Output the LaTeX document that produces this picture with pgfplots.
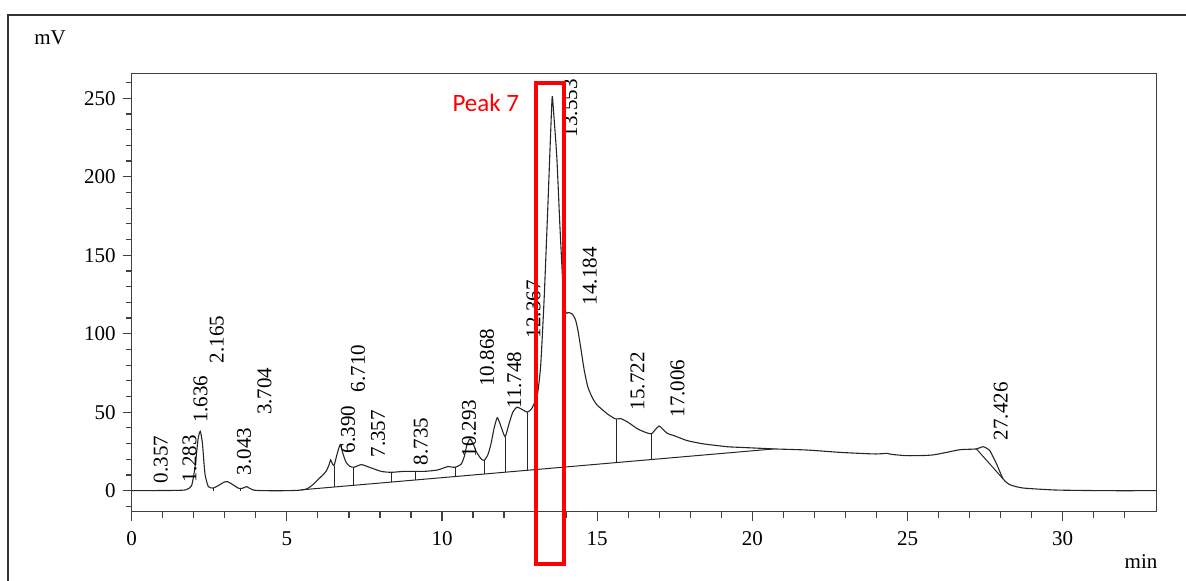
\documentclass[border=0pt]{standalone}
\usepackage{fontspec}
\setmainfont{Liberation Serif}
\newfontfamily\calfont{Carlito}
\usepackage{pgfplots}
\pgfplotsset{compat=1.18}
\definecolor{axgray}{HTML}{404040}
\begin{document}
\begin{tikzpicture}
\path[use as bounding box] (0,0) rectangle (593pt,290pt);
\draw[line width=1pt, color=black!80] (4.15pt,-1pt) -- (4.15pt,282.5pt) -- (594pt,282.5pt);
\node[font=\fontsize{10.5}{12}\selectfont] at (25pt,271pt) {mV};
\node[font=\fontsize{10.5}{12}\selectfont] at (570.5pt,9pt) {min};
\begin{axis}[
  at={(65.85pt,34.15pt)}, anchor=south west,
  scale only axis, width=512.5pt, height=219.2pt,
  xmin=0, xmax=33.03, ymin=-13.4, ymax=265.9,
  axis line style={color=axgray, line width=0.6pt},
  tick style={color=axgray, line width=0.6pt},
  tick align=outside,
  major tick length=4.5pt, minor tick length=3pt,
  xtick={0,5,...,30}, ytick={0,50,...,250},
  minor xtick={1,2,3,4,6,7,8,9,11,12,13,14,16,17,18,19,21,22,23,24,26,27,28,29,31,32},
  minor ytick={-10,10,20,30,40,60,70,80,90,110,120,130,140,160,170,180,190,210,220,230,240,260},
  xtick pos=bottom, ytick pos=left,
  ticklabel style={font=\fontsize{10.5}{12}\selectfont, text=black},
  /pgf/number format/assume math mode=true,
  xticklabel style={yshift=-2pt},
  clip=false,
]
% chromatogram trace
\addplot[black!85, line width=0.55pt, smooth, tension=0.35] coordinates {
(0,0) (1.0,0.1) (1.5,0.2) (1.75,0.6) (1.93,3.2) (2.04,15) (2.14,33) (2.21,37.8) (2.28,30) (2.36,10.8) (2.47,2.6) (2.63,1.7) (2.84,3.8) (2.98,5.5) (3.08,5.8) (3.22,4.3) (3.45,1.5) (3.58,1.6) (3.70,2.6) (3.80,1.5) (3.95,0.3) (4.3,0) (5.0,0) (5.4,0.3) (5.65,1.2) (5.85,4) (6.0,7) (6.15,9.8) (6.27,12.5) (6.35,16) (6.41,19.6) (6.46,17.5) (6.52,16) (6.62,23.4) (6.72,29.3) (6.81,23.4) (6.91,18) (7.03,15.5) (7.16,14.9) (7.40,16.6) (7.66,14.9) (8.04,12.3) (8.36,11.7) (8.79,12.3) (9.43,12.3) (9.86,13.2) (10.18,15.3) (10.42,14.9) (10.62,17) (10.72,22) (10.80,29) (10.90,33) (11.0,30) (11.1,25) (11.25,20.5) (11.36,19.3) (11.48,23) (11.58,30) (11.68,40) (11.78,46.5) (11.88,42) (12.03,34.4) (12.15,42) (12.28,50) (12.42,53.2) (12.6,51.5) (12.75,50) (12.88,52) (12.97,55.5) (13.08,62) (13.18,80) (13.29,122) (13.40,176) (13.50,228) (13.55,251) (13.60,240) (13.70,212) (13.80,168) (13.91,126) (13.99,113.5) (14.08,113.5) (14.2,112.5) (14.3,109) (14.38,102) (14.47,91) (14.58,77) (14.70,66) (14.85,59) (15.0,54.5) (15.33,48.9) (15.59,45.7) (15.76,45.9) (16.0,43.5) (16.29,39.5) (16.55,37.2) (16.74,36.2) (16.88,39) (16.99,41.2) (17.1,39.5) (17.26,36.5) (17.47,35.1) (17.9,31.9) (18.43,29.8) (19.19,28) (19.6,27.6) (20.26,27) (20.69,26.6) (21.76,25.9) (22.83,24.4) (23.9,23.4) (24.2,23.6) (24.33,23.8) (24.5,23.1) (24.97,22.3) (25.5,22.4) (25.83,22.8) (26.26,24.4) (26.69,26.1) (27.22,26.6) (27.44,28) (27.65,25.5) (27.87,17) (28.08,7.5) (28.3,3.8) (28.72,1.7) (29.8,0.4) (31.4,0) (33.03,0)
};
% integration baselines
\addplot[black!85, line width=0.5pt] coordinates {(5.45,0.5) (20.7,26.6)};
\addplot[black!85, line width=0.5pt] coordinates {(27.22,26.6) (28.08,7.5)};
% drop lines
\addplot[black!85, line width=0.5pt, unbounded coords=jump] coordinates {
(2.63,0) (2.63,1.7) (2.63,nan)
(3.52,0) (3.52,1.5) (3.52,nan)
(6.52,2.33) (6.52,16) (6.52,nan)
(7.16,3.43) (7.16,14.9) (7.16,nan)
(8.36,5.48) (8.36,11.7) (8.36,nan)
(9.13,6.80) (9.13,12.3) (9.13,nan)
(10.42,9.01) (10.42,14.9) (10.42,nan)
(11.36,10.62) (11.36,19.3) (11.36,nan)
(12.03,11.76) (12.03,34.4) (12.03,nan)
(12.75,12.99) (12.75,50) (12.75,nan)
(15.62,17.91) (15.62,45.8) (15.62,nan)
(16.74,19.82) (16.74,36.2)
};
% retention time labels
\begin{scope}[every node/.style={rotate=90, anchor=west, inner sep=0pt, font=\fontsize{10.5}{12}\selectfont}]
\node at (axis cs:0.937,4.5) {0.357};
\node at (axis cs:1.863,5) {1.283};
\node at (axis cs:2.216,43) {1.636};
\node at (axis cs:2.745,81) {2.165};
\node at (axis cs:3.623,9.6) {3.043};
\node at (axis cs:4.284,48) {3.704};
\node at (axis cs:6.970,23.6) {6.390};
\node at (axis cs:7.290,62.5) {6.710};
\node at (axis cs:7.937,21) {7.357};
\node at (axis cs:9.315,16) {8.735};
\node at (axis cs:10.873,21) {10.293};
\node at (axis cs:11.448,66) {10.868};
\node at (axis cs:12.328,52) {11.748};
\node at (axis cs:12.947,97) {12.367};
\node at (axis cs:14.133,225) {13.553};
\node at (axis cs:14.764,118) {14.184};
\node at (axis cs:16.302,51) {15.722};
\node at (axis cs:17.586,46.5) {17.006};
\node at (axis cs:28.006,32) {27.426};
\end{scope}
% highlight
\draw[red, line width=2pt] (axis cs:13.02,-46.6) rectangle (axis cs:13.93,259.8);
\node[red, font=\calfont\fontsize{12.5}{14}\selectfont] at (axis cs:11.41,246.8) {Peak 7};
\end{axis}
\end{tikzpicture}
\end{document}
